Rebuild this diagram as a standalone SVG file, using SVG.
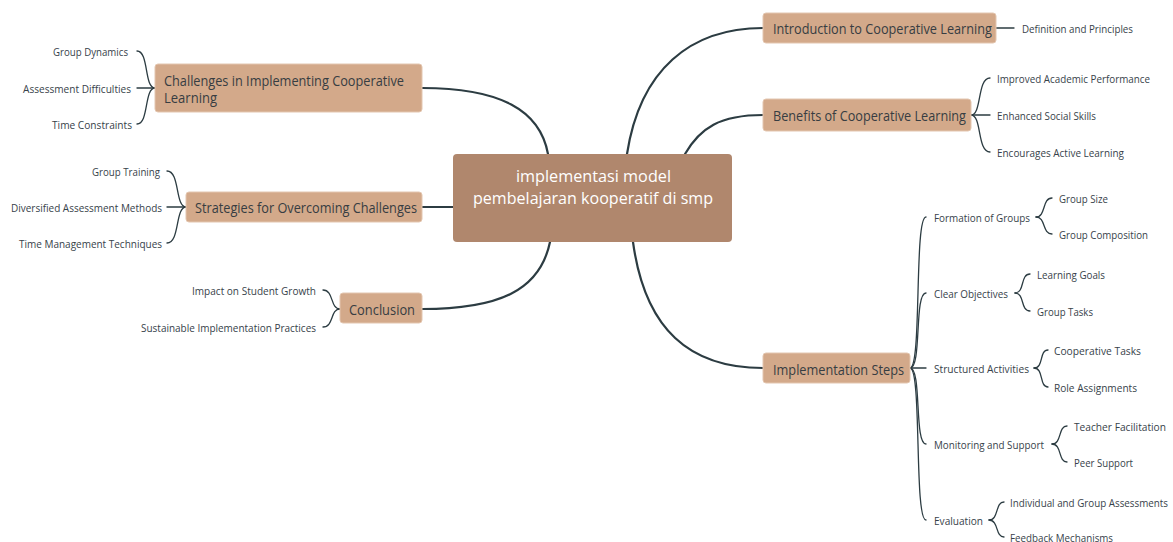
<svg xmlns="http://www.w3.org/2000/svg" width="1173" height="542" viewBox="0 0 1173 542">
<style>
.bg{fill:#ffffff}
.main rect{fill:#d3a98a;stroke:#e3c6b0;stroke-width:1}
.main text{font-family:"Open Sans","Liberation Sans",sans-serif;font-size:15px;fill:#373d42;dominant-baseline:central}
.main text.two{font-size:14px}
.center rect{fill:#b0876d}
.center text{font-family:"Open Sans","Liberation Sans",sans-serif;font-size:17px;fill:#ffffff;dominant-baseline:central}
.leaf text{font-family:"Open Sans","Liberation Sans",sans-serif;font-size:11.5px;fill:#37424a;dominant-baseline:central}
.conn path{fill:none;stroke:#2c3c42;stroke-linecap:round}
.conn .m{stroke-width:2.2}
.conn .b{stroke-width:1.3}
</style>
<rect class="bg" x="0" y="0" width="1173" height="542"/>
<g class="conn">
<path class="m" d="M548,154 C540,110 500,88 422,88"/>
<path class="m" d="M453,207 L422,207"/>
<path class="m" d="M550,242 C540,290 500,309 422,309"/>
<path class="m" d="M627,154 C640,70 690,28 763,28"/>
<path class="m" d="M685,154 C700,128 720,115 763,115"/>
<path class="m" d="M633,242 C645,330 690,368 763,368"/>
<path class="b" d="M155,88 C144,88 149,51 137,51"/>
<path class="b" d="M155,88 L137,88"/>
<path class="b" d="M155,88 C144,88 149,124 137,124"/>
<path class="b" d="M186,207 C175,207 180,171 167,171"/>
<path class="b" d="M186,207 L167,207"/>
<path class="b" d="M186,207 C175,207 180,243 167,243"/>
<path class="b" d="M340,309 C330,309 334,290 323,290"/>
<path class="b" d="M340,309 C330,309 334,327 323,327"/>
<path class="b" d="M996,28 L1014,28"/>
<path class="b" d="M971,115 C982,115 977,78 990,78"/>
<path class="b" d="M971,115 L990,115"/>
<path class="b" d="M971,115 C982,115 977,152 990,152"/>
<path class="b" d="M910,368 C922,368 914,217 926,217"/>
<path class="b" d="M910,368 C922,368 914,293 926,293"/>
<path class="b" d="M910,368 L926,368"/>
<path class="b" d="M910,368 C922,368 914,444 926,444"/>
<path class="b" d="M910,368 C922,368 914,520 926,520"/>
<path class="b" d="M1036,217 C1046,217 1042,198 1052,198"/>
<path class="b" d="M1036,217 C1046,217 1042,234 1052,234"/>
<path class="b" d="M1015,293 C1025,293 1020,274 1030,274"/>
<path class="b" d="M1015,293 C1025,293 1020,311 1030,311"/>
<path class="b" d="M1034,368 C1044,368 1039,350 1048,350"/>
<path class="b" d="M1034,368 C1044,368 1039,387 1048,387"/>
<path class="b" d="M1052,444 C1062,444 1058,426 1067,426"/>
<path class="b" d="M1052,444 C1062,444 1058,462 1067,462"/>
<path class="b" d="M989,520 C999,520 995,502 1004,502"/>
<path class="b" d="M989,520 C999,520 995,537 1004,537"/>
</g>
<g id="center" class="center">
<rect x="453" y="154" width="279" height="88" rx="4"/>
<text x="516" y="175" textLength="155" lengthAdjust="spacingAndGlyphs">implementasi model</text>
<text x="473" y="197" textLength="240" lengthAdjust="spacingAndGlyphs">pembelajaran kooperatif di smp</text>
</g>
<g id="challenges" class="main">
<rect x="155" y="64" width="267" height="48" rx="3"/>
<text class="two" x="164" y="80" textLength="240" lengthAdjust="spacingAndGlyphs">Challenges in Implementing Cooperative</text>
<text class="two" x="164" y="97" textLength="53" lengthAdjust="spacingAndGlyphs">Learning</text>
</g>
<g id="strategies" class="main">
<rect x="186" y="192" width="236" height="30" rx="3"/>
<text x="195" y="207" textLength="222" lengthAdjust="spacingAndGlyphs">Strategies for Overcoming Challenges</text>
</g>
<g id="conclusion" class="main">
<rect x="340" y="293" width="82" height="30" rx="3"/>
<text x="349" y="309" textLength="66" lengthAdjust="spacingAndGlyphs">Conclusion</text>
</g>
<g id="intro" class="main">
<rect x="763" y="13" width="233" height="30" rx="3"/>
<text x="773" y="28" textLength="219" lengthAdjust="spacingAndGlyphs">Introduction to Cooperative Learning</text>
</g>
<g id="benefits" class="main">
<rect x="763" y="99" width="208" height="32" rx="3"/>
<text x="773" y="115" textLength="193" lengthAdjust="spacingAndGlyphs">Benefits of Cooperative Learning</text>
</g>
<g id="implementation" class="main">
<rect x="763" y="353" width="147" height="30" rx="3"/>
<text x="773" y="369" textLength="131" lengthAdjust="spacingAndGlyphs">Implementation Steps</text>
</g>
<g id="leaf-group-dynamics" class="leaf"><text x="53" y="51" textLength="75" lengthAdjust="spacingAndGlyphs">Group Dynamics</text></g>
<g id="leaf-assessment-difficulties" class="leaf"><text x="23" y="88" textLength="108" lengthAdjust="spacingAndGlyphs">Assessment Difficulties</text></g>
<g id="leaf-time-constraints" class="leaf"><text x="52" y="124" textLength="80" lengthAdjust="spacingAndGlyphs">Time Constraints</text></g>
<g id="leaf-group-training" class="leaf"><text x="92" y="171" textLength="68" lengthAdjust="spacingAndGlyphs">Group Training</text></g>
<g id="leaf-diversified" class="leaf"><text x="11" y="207" textLength="151" lengthAdjust="spacingAndGlyphs">Diversified Assessment Methods</text></g>
<g id="leaf-time-management" class="leaf"><text x="19" y="243" textLength="143" lengthAdjust="spacingAndGlyphs">Time Management Techniques</text></g>
<g id="leaf-impact" class="leaf"><text x="192" y="290" textLength="124" lengthAdjust="spacingAndGlyphs">Impact on Student Growth</text></g>
<g id="leaf-sustainable" class="leaf"><text x="141" y="327" textLength="175" lengthAdjust="spacingAndGlyphs">Sustainable Implementation Practices</text></g>
<g id="leaf-definition" class="leaf"><text x="1022" y="28" textLength="111" lengthAdjust="spacingAndGlyphs">Definition and Principles</text></g>
<g id="leaf-improved" class="leaf"><text x="997" y="78" textLength="153" lengthAdjust="spacingAndGlyphs">Improved Academic Performance</text></g>
<g id="leaf-enhanced" class="leaf"><text x="997" y="115" textLength="99" lengthAdjust="spacingAndGlyphs">Enhanced Social Skills</text></g>
<g id="leaf-encourages" class="leaf"><text x="997" y="152" textLength="127" lengthAdjust="spacingAndGlyphs">Encourages Active Learning</text></g>
<g id="sub-formation" class="leaf"><text x="934" y="217" textLength="96" lengthAdjust="spacingAndGlyphs">Formation of Groups</text></g>
<g id="leaf-group-size" class="leaf"><text x="1059" y="198" textLength="49" lengthAdjust="spacingAndGlyphs">Group Size</text></g>
<g id="leaf-group-composition" class="leaf"><text x="1059" y="234" textLength="89" lengthAdjust="spacingAndGlyphs">Group Composition</text></g>
<g id="sub-clear" class="leaf"><text x="934" y="293" textLength="74" lengthAdjust="spacingAndGlyphs">Clear Objectives</text></g>
<g id="leaf-learning-goals" class="leaf"><text x="1037" y="274" textLength="68" lengthAdjust="spacingAndGlyphs">Learning Goals</text></g>
<g id="leaf-group-tasks" class="leaf"><text x="1037" y="311" textLength="56" lengthAdjust="spacingAndGlyphs">Group Tasks</text></g>
<g id="sub-structured" class="leaf"><text x="934" y="368" textLength="95" lengthAdjust="spacingAndGlyphs">Structured Activities</text></g>
<g id="leaf-cooperative-tasks" class="leaf"><text x="1054" y="350" textLength="87" lengthAdjust="spacingAndGlyphs">Cooperative Tasks</text></g>
<g id="leaf-role" class="leaf"><text x="1054" y="387" textLength="83" lengthAdjust="spacingAndGlyphs">Role Assignments</text></g>
<g id="sub-monitoring" class="leaf"><text x="934" y="444" textLength="110" lengthAdjust="spacingAndGlyphs">Monitoring and Support</text></g>
<g id="leaf-teacher" class="leaf"><text x="1074" y="426" textLength="92" lengthAdjust="spacingAndGlyphs">Teacher Facilitation</text></g>
<g id="leaf-peer" class="leaf"><text x="1074" y="462" textLength="59" lengthAdjust="spacingAndGlyphs">Peer Support</text></g>
<g id="sub-evaluation" class="leaf"><text x="934" y="520" textLength="49" lengthAdjust="spacingAndGlyphs">Evaluation</text></g>
<g id="leaf-individual" class="leaf"><text x="1010" y="502" textLength="158" lengthAdjust="spacingAndGlyphs">Individual and Group Assessments</text></g>
<g id="leaf-feedback" class="leaf"><text x="1010" y="537" textLength="103" lengthAdjust="spacingAndGlyphs">Feedback Mechanisms</text></g>
</svg>
